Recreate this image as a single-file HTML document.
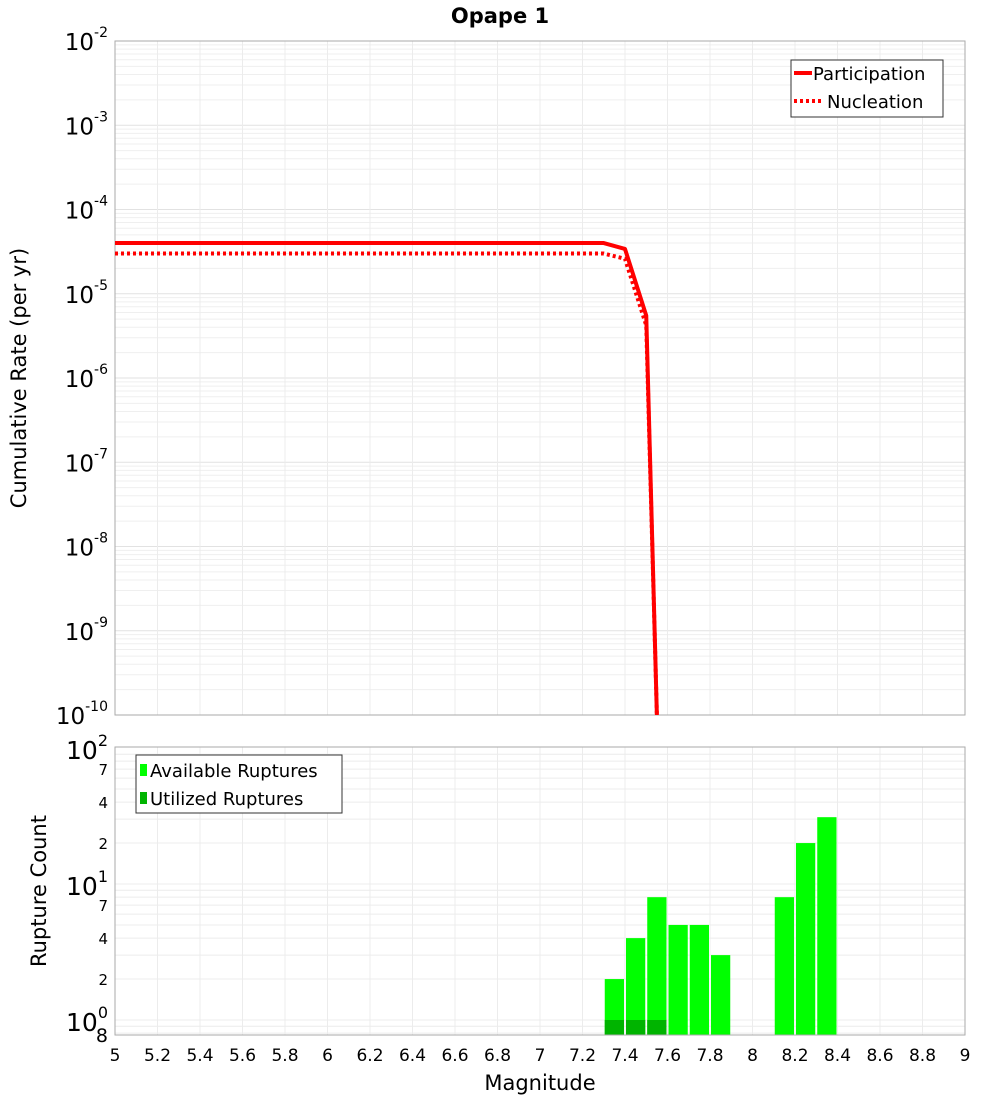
<!DOCTYPE html>
<html><head><meta charset="utf-8"><style>
body{margin:0;background:#fff;}
svg text{font-family:"DejaVu Sans","Liberation Sans",sans-serif;}
</style></head><body>
<svg id="c" width="1000" height="1100" xmlns="http://www.w3.org/2000/svg">
<text x="500" y="23" text-anchor="middle" font-size="21" font-weight="bold">Opape 1</text>
<g id="topg"></g>
<g id="botg"></g>
<text transform="translate(26,378) rotate(-90)" text-anchor="middle" font-size="21">Cumulative Rate (per yr)</text>
<text transform="translate(46,891) rotate(-90)" text-anchor="middle" font-size="21">Rupture Count</text>
<text x="540" y="1090" text-anchor="middle" font-size="21">Magnitude</text>
</svg>
<script>
const partMags=[5,7.3,7.4,7.5,7.55];
const partRates=[4e-5,4e-5,3.4e-5,5.5e-6,1e-10];
const nuclMags=[5,7.3,7.4,7.5,7.55];
const nuclRates=[3e-5,3e-5,2.6e-5,4.2e-6,1e-10];
const binMags=[7.3,7.4,7.5,7.6,7.7,7.8,8.1,8.2,8.3];
const availCounts=[2,4,8,5,5,3,8,20,31];
const utilMags=[7.3,7.4,7.5];
const utilCounts=[1,1,1];
const xTicks=[5,5.2,5.4,5.6,5.8,6,6.2,6.4,6.6,6.8,7,7.2,7.4,7.6,7.8,8,8.2,8.4,8.6,8.8,9];
const topExps=[-2,-3,-4,-5,-6,-7,-8,-9,-10];
const botMinor=[2,4,7];

const NS="http://www.w3.org/2000/svg";
const X0=115,X1=965;
const x=m=>X0+(m-5)/4*(X1-X0);
const T0=41,T1=715;
const yT=v=>T0+(-2-Math.log10(v))/8*(T1-T0);
const B0=747,B1=1035;
const yB=v=>1020-136*Math.log10(v);
function el(p,t,a,txt){const e=document.createElementNS(NS,t);for(const k in a)e.setAttribute(k,a[k]);if(txt!==undefined)e.textContent=txt;p.appendChild(e);return e;}
const topG=document.getElementById('topg'),botG=document.getElementById('botg');
for(let d=-10;d<-2;d++){for(let k=1;k<10;k++){const yy=yT(k*Math.pow(10,d));
const l=el(topG,'line',{x1:X0,x2:X1,y1:yy,y2:yy,stroke:k==1?'#e2e2e2':'#efefef','stroke-width':1});

}}
for(const t of xTicks){
const l=el(topG,'line',{x1:x(t),x2:x(t),y1:T0,y2:T1,stroke:'#ececec'});


const l2=el(botG,'line',{x1:x(t),x2:x(t),y1:B0,y2:B1,stroke:'#ececec'});


const tx=el(botG,'text',{x:x(t),y:1061,'text-anchor':'middle','font-size':17},String(t));

}
const fr=el(topG,'rect',{x:X0,y:T0,width:X1-X0,height:T1-T0,fill:'none',stroke:'#aaa'});


for(const e of topExps){const yy=yT(Math.pow(10,e));
const t=el(topG,'text',{x:108,y:yy+9,'text-anchor':'end','font-size':23});


el(t,'tspan',{},'10');el(t,'tspan',{dy:-13,'font-size':14},String(e));}
function line(ms,rs,dash,name){const pts=ms.map((m,i)=>x(m)+','+Math.min(yT(rs[i]),T1)).join(' ');
const p=el(topG,'polyline',{points:pts,fill:'none',stroke:'#f00','stroke-width':4,'stroke-dasharray':dash||'none','stroke-linejoin':'round'});

}
line(nuclMags,nuclRates,'3,3','nucleation-line');
line(partMags,partRates,null,'participation-line');
const lg=el(topG,'g',{});


el(lg,'rect',{x:791,y:60,width:152,height:57,fill:'#fff',stroke:'#333'});
el(lg,'line',{x1:794,x2:812,y1:73,y2:73,stroke:'#f00','stroke-width':4});
el(lg,'text',{x:813,y:80,'font-size':18},'Participation');
el(lg,'line',{x1:794,x2:822,y1:101,y2:101,stroke:'#f00','stroke-width':4,'stroke-dasharray':'3,3'});
el(lg,'text',{x:827,y:108,'font-size':18},'Nucleation');
for(let d=-1;d<2;d++){for(let k=1;k<10;k++){const yy=yB(k*Math.pow(10,d));if(yy>B1||yy<B0)continue;
const l=el(botG,'line',{x1:X0,x2:X1,y1:yy,y2:yy,stroke:'#ececec'});

}}
for(const m of [0,1,2]){const yy=yB(Math.pow(10,m));
const t=el(botG,'text',{x:108,y:yy+11,'text-anchor':'end','font-size':25});


el(t,'tspan',{},'10');el(t,'tspan',{dy:-13,'font-size':16},String(m));
if(m<2)for(const k of botMinor){const t2=el(botG,'text',{x:108,y:yB(k*Math.pow(10,m))+6,'text-anchor':'end','font-size':15},String(k));

}}
{const t=el(botG,'text',{x:108,y:1042,'text-anchor':'end','font-size':19},'8');

}
const w=x(5.1)-x(5);
binMags.forEach((m,i)=>{const yy=yB(availCounts[i]);
const r=el(botG,'rect',{x:x(m)+1,y:yy,width:w-2,height:B1-yy,fill:'#00ff00'});

});
utilMags.forEach((m,i)=>{const yy=yB(utilCounts[i]);
const r=el(botG,'rect',{x:x(m)+1,y:yy,width:w-2,height:B1-yy,fill:'#00b400'});

});
const fb=el(botG,'rect',{x:X0,y:B0,width:X1-X0,height:B1-B0,fill:'none',stroke:'#aaa'});


const lb=el(botG,'g',{});


el(lb,'rect',{x:136,y:755,width:206,height:58,fill:'#fff',stroke:'#333'});
el(lb,'rect',{x:140,y:764,width:7,height:12,fill:'#00ff00'});
el(lb,'text',{x:150,y:777,'font-size':18},'Available Ruptures');
el(lb,'rect',{x:140,y:792,width:7,height:12,fill:'#00b400'});
el(lb,'text',{x:150,y:805,'font-size':18},'Utilized Ruptures');
</script>
</body></html>
